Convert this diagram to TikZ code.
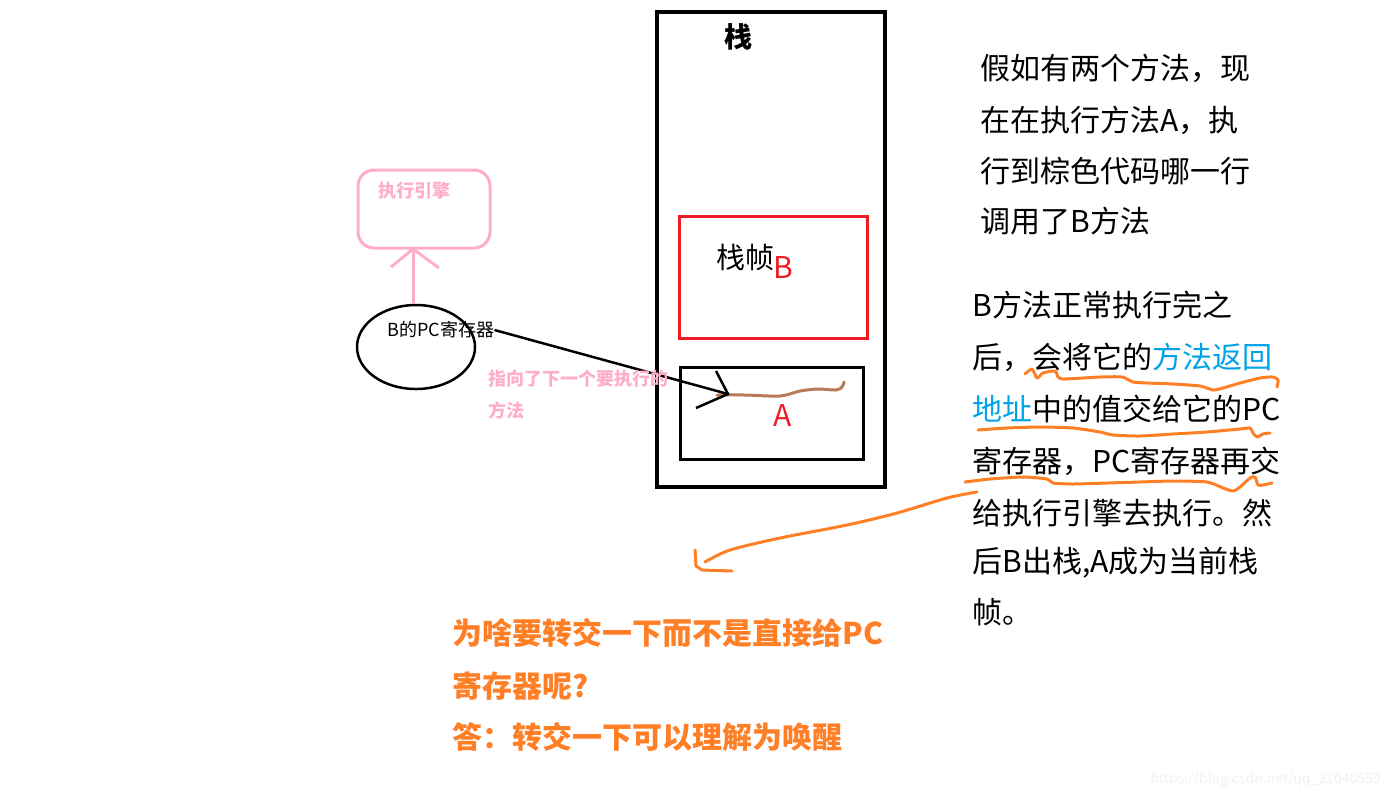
\documentclass[tikz,border=0pt]{standalone}
\usepackage{fontspec}
\setmainfont{Noto Sans CJK SC}
\usetikzlibrary{shapes.geometric}
\definecolor{pred}{HTML}{ED1C24}
\definecolor{ppink}{HTML}{FFAEC9}
\definecolor{porange}{HTML}{FF7F27}
\definecolor{pblue}{HTML}{00A2E8}
\definecolor{pbrown}{HTML}{B97A57}
\tikzset{
  txt/.style={inner sep=0pt, anchor=west, font=\fontsize{15pt}{18pt}\selectfont},
  otxt/.style={inner sep=0pt, anchor=west, text=porange, font=\fontsize{15pt}{18pt}\selectfont\bfseries},
  ptxt/.style={inner sep=0pt, anchor=west, text=ppink, font=\fontsize{9pt}{11pt}\selectfont\bfseries},
  oline/.style={draw=porange, line width=1.5pt, line cap=round, line join=round},
}
\begin{document}
\begin{tikzpicture}[x=0.5pt,y=-0.5pt]
\useasboundingbox (0,0) rectangle (1391,800);
% stack
\node[draw, line width=2pt, minimum width=114pt, minimum height=237.5pt, inner sep=0pt] (stack) at (771,249.5) {};
\node[inner sep=0pt, font=\fontsize{14pt}{16pt}\selectfont\bfseries] (stacklbl) at (738,37) {栈};
% frame B
\node[draw=pred, line width=1.5pt, minimum width=94pt, minimum height=61pt, inner sep=0pt] (frameB) at (773,277) {};
\node[txt, font=\fontsize{14.5pt}{16pt}\selectfont] (frameBlbl) at (716,257) {栈帧};
\node[inner sep=0pt, text=pred, font=\fontsize{15pt}{16pt}\selectfont] (Blbl) at (783,267) {B};
% frame A
\node[draw, line width=1.5pt, minimum width=91.5pt, minimum height=46pt, inner sep=0pt] (frameA) at (771.5,413) {};
\node[inner sep=0pt, text=pred, font=\fontsize{15pt}{16pt}\selectfont] (Albl) at (783,415) {A};
\coordinate (tipA) at (728,394);
\draw[pbrown, line width=1.5pt, line cap=round] plot[smooth, tension=0.5] coordinates {(717,395) (745,395) (780,396) (800,391) (818,389) (836,390) (842,387) (844,382)};
% engine
\node[draw=ppink, line width=1.5pt, rounded corners=8pt, minimum width=66pt, minimum height=39pt, inner sep=0pt] (engine) at (424,209) {};
\node[ptxt] (enginelbl) at (378,191) {执行引擎};
\coordinate (tipE) at (413,249);
% PC register
\node[draw, ellipse, line width=1.25pt, minimum width=59pt, minimum height=42pt, inner sep=0pt] (pcreg) at (416,347) {};
\node[inner sep=0pt, anchor=west, font=\fontsize{9pt}{11pt}\selectfont] (pctext) at (387,330) {B的PC寄存器};
% pink arrow
\draw[ppink, line width=1.5pt] (pcreg.north -| tipE) -- (tipE);
\draw[ppink, line width=1.5pt] (391,267) -- (tipE) -- (439,268);
% black arrow
\draw[line width=1.25pt] (pctext.east) -- (tipA);
\draw[line width=1.25pt] (716,371) -- (tipA) -- (696,408);
\node[ptxt] (ptr1) at (488,379) {指向了下一个要执行的};
\node[ptxt] (ptr2) at (488,411) {方法};
% right text block 1
\node[txt] (r1) at (980,68) {假如有两个方法，现};
\node[txt] (r2) at (980,120) {在在执行方法A，执};
\node[txt] (r3) at (980,171) {行到棕色代码哪一行};
\node[txt] (r4) at (980,221) {调用了B方法};
% right text block 2
\node[txt] (s1) at (972,305) {B方法正常执行完之};
\node[txt] (s2) at (972,357) {后，会将它的\textcolor{pblue}{方法返回}};
\node[txt] (s3) at (972,409) {\textcolor{pblue}{地址}中的值交给它的PC};
\node[txt] (s4) at (972,461) {寄存器，PC寄存器再交};
\node[txt] (s5) at (972,513) {给执行引擎去执行。然};
\node[txt] (s6) at (972,563) {后B出栈,A成为当前栈};
\node[txt] (s7) at (972,612) {帧。};
% orange underlines
\draw[oline] plot[smooth, tension=0.4] coordinates {(1025,374) (1032,369) (1037,378) (1043,373) (1055,371) (1058,377) (1063,379) (1083,378) (1100,377) (1122,377) (1133,382) (1147,383) (1173,384) (1200,386) (1213,390) (1223,388) (1240,383) (1260,378) (1273,377) (1278,380) (1277,387)};
\draw[oline] plot[smooth, tension=0.4] coordinates {(978,430) (1007,428) (1040,427) (1073,428) (1100,432) (1113,435) (1140,436) (1173,434) (1207,432) (1240,429) (1250,428) (1253,433) (1257,437) (1263,434) (1270,433)};
\draw[oline] plot[smooth, tension=0.4] coordinates {(965,482) (990,479) (1023,477) (1047,479) (1053,483) (1073,484) (1107,483) (1140,482) (1173,481) (1207,482) (1223,488) (1233,491) (1240,487) (1250,478) (1255,477) (1258,485) (1263,485) (1272,483)};
\draw[oline] plot[smooth, tension=0.5] coordinates {(977,492) (947,498) (897,513) (847,525) (780,538) (730,550) (705,562)};
\draw[oline] (695,550) -- (696,566) -- (702,570) -- (732,571);
% bottom question
\node[otxt] (q1) at (452,633) {为啥要转交一下而不是直接给PC};
\node[otxt] (q2) at (452,686) {寄存器呢?};
\node[otxt] (q3) at (452,737) {答：转交一下可以理解为唤醒};
% watermark
\node[inner sep=0pt, anchor=east, text=black!6, font=\fontsize{7pt}{8pt}\selectfont] (wm) at (1381,780) {https://blog.csdn.net/qq\_21040559};
\end{tikzpicture}
\end{document}
